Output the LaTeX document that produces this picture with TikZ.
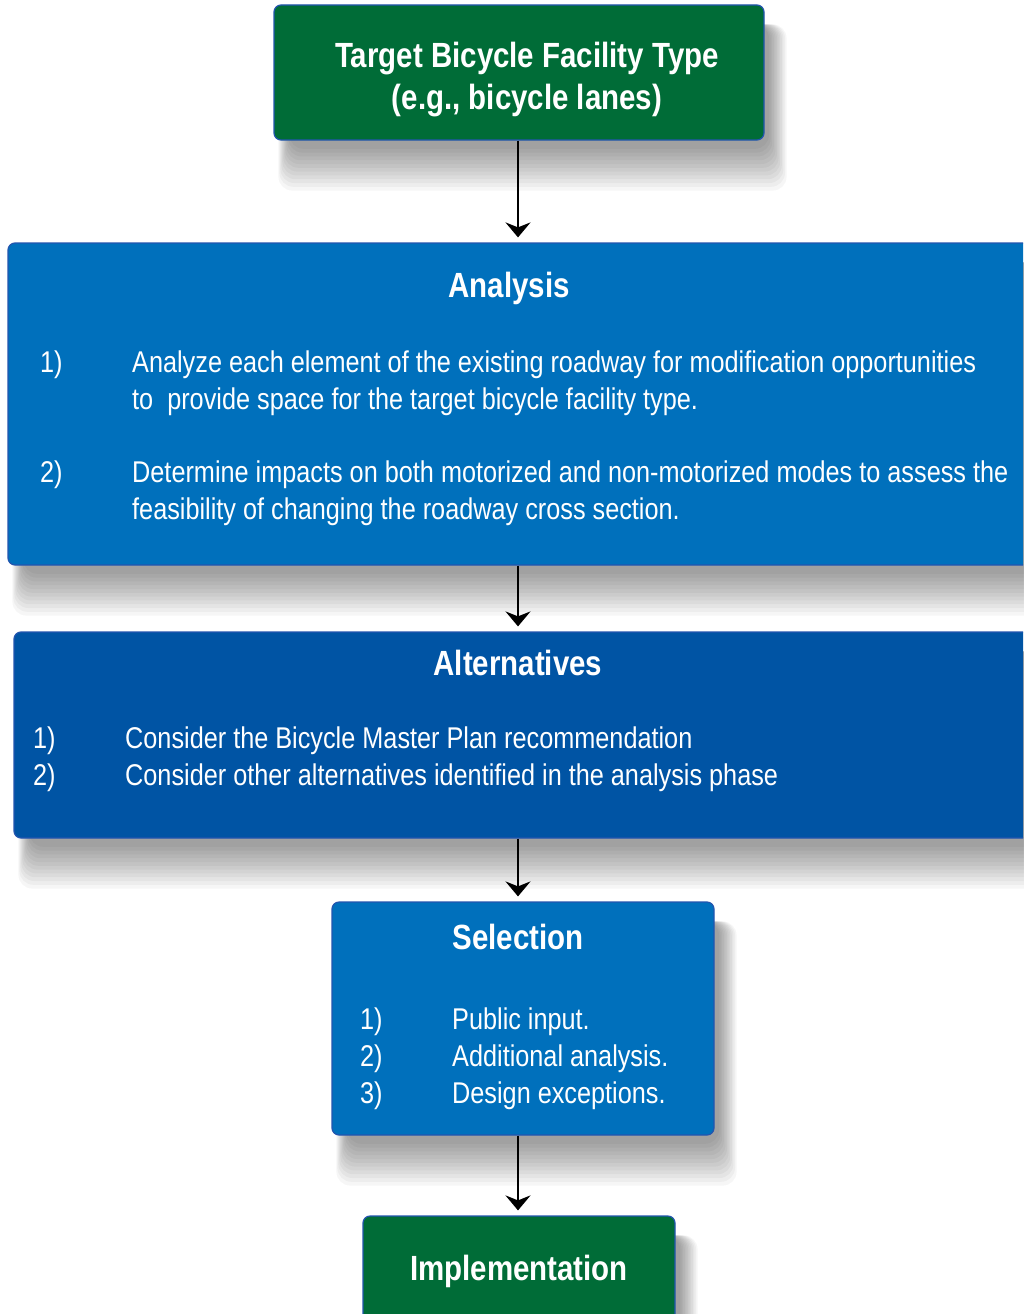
\documentclass[tikz,border=0pt]{standalone}
\usepackage{fontspec}
\setmainfont{Liberation Sans}[FakeStretch=0.842]
\usepackage{xcolor}
\usepackage{tikz}
\usetikzlibrary{arrows.meta}
\usetikzlibrary{calc}
\usetikzlibrary{backgrounds}

\definecolor{boxgreen}{RGB}{0,108,55}
\definecolor{boxblue}{RGB}{0,112,188}
\definecolor{boxdark}{RGB}{0,84,164}
\definecolor{boxline}{RGB}{35,85,175}

% soft shadow below and right of a box node
\newcommand{\boxshadow}[1]{
	\foreach \s in {0,...,11}{
		\fill[black, opacity=0.035, rounded corners=14pt] ($(#1.north west)+(5+\s,-20)$) rectangle ($(#1.south east)+(22-1.6*\s,-50+3.8*\s)$);
		}
	}

\begin{document}
\begin{tikzpicture}[x=1pt,y=1pt]
	\tikzstyle{box}=[draw=boxline, line width=1.2pt, rounded corners=7pt, inner sep=0pt]
	\tikzstyle{head}=[anchor=base, text=white, inner sep=0pt, font=\fontsize{35}{44}\selectfont\bfseries]
	\tikzstyle{item}=[anchor=base west, text=white, inner sep=0pt, font=\fontsize{30}{37}\selectfont]
	\tikzstyle{flow}=[-{Stealth[length=15pt,width=25pt,inset=5pt]}, line width=2.4pt, black, shorten >=5pt]
	\useasboundingbox (0,0) rectangle (1023,-1314);
	\clip (0,0) rectangle (1023,-1314);
	\coordinate (axis) at (518,0);

	\node[box, fill=boxgreen, minimum width=490, minimum height=135] (target) at (519,-72.5) {};
	\node[box, fill=boxblue, minimum width=1040, minimum height=322] (analysis) at (528,-404) {};
	\node[box, fill=boxdark, minimum width=1034, minimum height=206] (alternatives) at (531,-735) {};
	\node[box, fill=boxblue, minimum width=382, minimum height=233] (selection) at (523,-1018.5) {};
	\node[box, fill=boxgreen, minimum width=312, minimum height=120] (implementation) at (519,-1276) {};

	\begin{pgfonlayer}{background}
		\fill[white] (0,0) rectangle (1023,-1314);
		\foreach \b in {target,analysis,alternatives,selection,implementation}{
			\boxshadow{\b}
			}
	\end{pgfonlayer}

	% target
	\node[head] (targettop) at (527,-67) {Target Bicycle Facility Type};
	\node[head] (targetbot) at (527,-109) {(e.g., bicycle lanes)};

	% analysis
	\node[head] (analysistitle) at (509,-297) {Analysis};
	\node[item] (anum1) at (40,-372) {1)};
	\node[item] (aone) at (132,-372) {Analyze each element of the existing roadway for modification opportunities};
	\node[item] (aonecont) at (132,-409) {to\ \ provide space for the target bicycle facility type.};
	\node[item] (anum2) at (40,-482) {2)};
	\node[item] (atwo) at (132,-482) {Determine impacts on both motorized and non-motorized modes to assess the};
	\node[item] (atwocont) at (132,-519) {feasibility of changing the roadway cross section.};

	% alternatives
	\node[head] (alttitle) at (518,-675) {Alternatives};
	\node[item] (lnum1) at (33,-748) {1)};
	\node[item] (lone) at (125,-748) {Consider the Bicycle Master Plan recommendation};
	\node[item] (lnum2) at (33,-785) {2)};
	\node[item] (ltwo) at (125,-785) {Consider other alternatives identified in the analysis phase};

	% selection
	\node[head] (seltitle) at (518,-949) {Selection};
	\foreach \t [count=\k] in {Public input., Additional analysis., Design exceptions.}{
		\node[item] (snum\k) at (360,-992-37*\k) {\k)};
		\node[item] (sitem\k) at (452,-992-37*\k) {\t};
		}

	% implementation
	\node[head] (impltitle) at (519,-1280) {Implementation};

	\draw[flow] (axis |- target.south) -- (axis |- analysis.north);
	\draw[flow] (axis |- analysis.south) -- (axis |- alternatives.north);
	\draw[flow] (axis |- alternatives.south) -- (axis |- selection.north);
	\draw[flow] (axis |- selection.south) -- (axis |- implementation.north);
\end{tikzpicture}
\end{document}
